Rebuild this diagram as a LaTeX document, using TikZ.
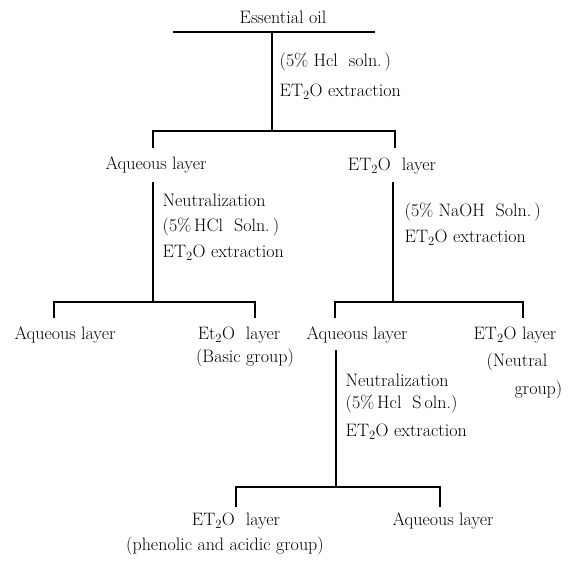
\documentclass[tikz,border=0pt]{standalone}
\begin{document}
\begin{tikzpicture}[x=1pt,y=-1pt,line width=1.4pt,
  lbl/.style={inner sep=0pt,font=\fontsize{18}{21}\selectfont},
  side/.style={lbl,anchor=west},
  sideR/.style={lbl,anchor=east}]
\useasboundingbox (0,0) rectangle (568,562);
% level 0
\node[lbl] (oil) at (283,17) {Essential oil};
\coordinate (t1) at (173,32);
\coordinate (t2) at (375,32);
\coordinate (v1a) at (272,32);
\coordinate (v1b) at (272,131);
\draw (t1) -- (t2);
\draw (v1a) -- (v1b);
\node[side] (c1a) at (279,62) {(5\% Hcl\ \ soln.\,)};
\node[side] (c1b) at (279,92) {ET\textsubscript{2}O\ extraction};
% level 1
\coordinate (l1a) at (153,148);
\coordinate (l1c) at (395,131);
\coordinate (l1d) at (395,148);
\draw (l1a) |- (l1c) -- (l1d);
\node[lbl] (aq1) at (156,165) {Aqueous\ layer};
\node[lbl] (et1) at (392,166) {ET\textsubscript{2}O\ \ layer};
% branch under aqueous layer
\coordinate (v2a) at (153,182);
\coordinate (v2b) at (153,302);
\draw (v2a) -- (v2b);
\node[side] (c2a) at (162,200) {Neutralization};
\node[side] (c2b) at (162,227) {(5\%\,HCl\ \ Soln.\,)};
\node[side] (c2c) at (162,253) {ET\textsubscript{2}O\ extraction};
% branch under ET2O layer
\coordinate (v3a) at (393,182);
\coordinate (v3b) at (393,302);
\draw (v3a) -- (v3b);
\node[side] (c3a) at (404,212) {(5\% NaOH\ \ Soln.\,)};
\node[side] (c3b) at (404,238) {ET\textsubscript{2}O\ extraction};
% level 2 left
\coordinate (l2a) at (54,318);
\coordinate (l2c) at (255,302);
\coordinate (l2d) at (255,318);
\draw (l2a) |- (l2c) -- (l2d);
\node[lbl] (aq2) at (65,335) {Aqueous\ layer};
\node[lbl] (et2) at (239,335) {Et\textsubscript{2}O\ \ layer};
\node[lbl] (bas) at (245,358) {(Basic\ group)};
% level 2 right
\coordinate (l3a) at (335,318);
\coordinate (l3c) at (523,302);
\coordinate (l3d) at (523,318);
\draw (l3a) |- (l3c) -- (l3d);
\node[lbl] (aq3) at (357,335) {Aqueous\ layer};
\node[lbl] (et3) at (515,335) {ET\textsubscript{2}O\ layer};
\node[lbl] (neu) at (517,362) {(Neutral};
\node[sideR] (grp) at (563,390) {group)};
% branch under aqueous layer (right)
\coordinate (v4a) at (336,350);
\coordinate (v4b) at (336,487);
\draw (v4a) -- (v4b);
\node[side] (c4a) at (345,380) {Neutralization};
\node[side] (c4b) at (345,404) {(5\%\,Hcl\ \ S\,oln.)};
\node[side] (c4c) at (345,432) {ET\textsubscript{2}O\ extraction};
% level 3
\coordinate (l4a) at (236,507);
\coordinate (l4c) at (440,487);
\coordinate (l4d) at (440,507);
\draw (l4a) |- (l4c) -- (l4d);
\node[lbl] (et4) at (236,521) {ET\textsubscript{2}O\ \ layer};
\node[lbl] (phe) at (225,546) {(phenolic and acidic group)};
\node[lbl] (aq4) at (443,521) {Aqueous\ layer};
\end{tikzpicture}
\end{document}
